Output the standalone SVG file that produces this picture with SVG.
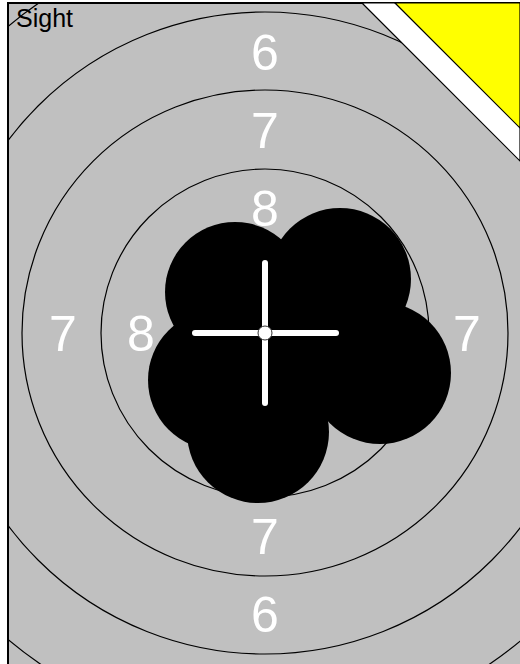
<svg xmlns="http://www.w3.org/2000/svg" width="520" height="664" viewBox="0 0 520 664">
<style>
.ring{fill:none;stroke:#000;stroke-width:1.2}
.lbl{font-family:"Liberation Sans",Arial,sans-serif;font-size:50px;fill:#fff;text-anchor:middle}
.cross{stroke:#fff;stroke-width:6;stroke-linecap:round}
</style>
<defs><clipPath id="area"><rect x="8" y="3" width="520" height="670"/></clipPath></defs>
<rect x="0" y="0" width="520" height="664" fill="#fff"/>
<g id="target">
<rect x="8" y="3" width="520" height="670" fill="#c0c0c0" stroke="#000" stroke-width="2"/>
<g clip-path="url(#area)">
<circle class="ring" cx="265" cy="333" r="164"/>
<circle class="ring" cx="265" cy="333" r="243"/>
<circle class="ring" cx="265" cy="333" r="321"/>
<circle class="ring" cx="265" cy="333" r="400"/>
</g>
</g>
<g id="corner">
<polygon points="362,3 520,3 520,161" fill="#fff" stroke="#000" stroke-width="1.2"/>
<polygon points="395,3 520,3 520,128" fill="#ff0" stroke="#000" stroke-width="1.2"/>
</g>
<g id="labels">
<text class="lbl" x="265" y="70">6</text>
<text class="lbl" x="265" y="148">7</text>
<text class="lbl" x="265" y="226">8</text>
<text class="lbl" x="63" y="351">7</text>
<text class="lbl" x="141" y="351">8</text>
<text class="lbl" x="467" y="351">7</text>
<text class="lbl" x="265" y="554">7</text>
<text class="lbl" x="265" y="632">6</text>
</g>
<g id="group" fill="#000">
<circle cx="235" cy="292" r="70"/>
<circle cx="340" cy="279" r="71"/>
<circle cx="218" cy="380" r="70"/>
<circle cx="258" cy="432" r="71"/>
<circle cx="380" cy="373" r="71"/>
<circle cx="285" cy="350" r="70"/>
</g>
<g id="sight">
<line class="cross" x1="265" y1="263" x2="265" y2="403"/>
<line class="cross" x1="195" y1="333" x2="336" y2="333"/>
<circle cx="265" cy="333" r="7" fill="#fff" stroke="#333" stroke-width="1"/>
</g>
<text x="16" y="27" font-family="Liberation Sans, Arial, sans-serif" font-size="25" fill="#000">Sight</text>
</svg>
